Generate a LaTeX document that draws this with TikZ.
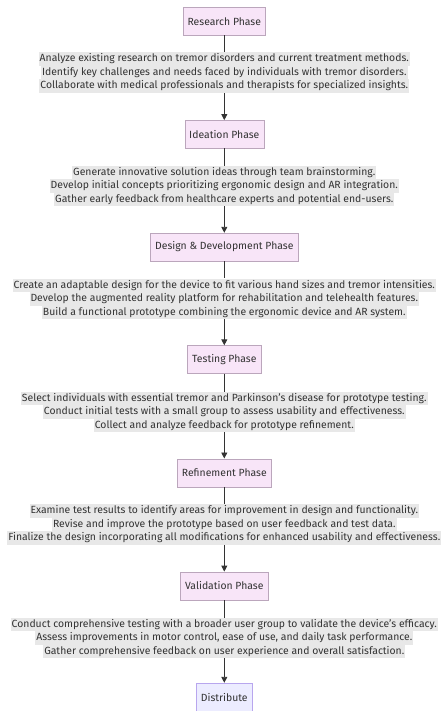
\documentclass[tikz,border=0pt]{standalone}
\usepackage{fontspec}
\setmainfont{Fira Sans}
\usetikzlibrary{arrows.meta}

\definecolor{phasefill}{HTML}{F8E5F8}
\definecolor{phasedraw}{HTML}{BBA6BC}
\definecolor{endfill}{HTML}{ECECFF}
\definecolor{enddraw}{HTML}{B8A6EE}
\definecolor{labelbg}{HTML}{E8E8E8}
\definecolor{ink}{HTML}{333333}
\newcommand{\hl}[1]{{\setlength{\fboxsep}{0pt}\colorbox{labelbg}{\strut\kern1pt#1\kern1pt}}}

\begin{document}
\begin{tikzpicture}[x=1pt, y=-1pt, inner sep=0pt, text=ink,
	font=\fontsize{10.4}{13.5}\selectfont, >={Triangle[length=6pt,width=6pt]}]
	\tikzstyle{every node}=[align=center]
	\tikzstyle{phase}=[draw=phasedraw, fill=phasefill, minimum height=28pt, inner xsep=4.5pt]
	\tikzstyle{finish}=[draw=enddraw, fill=endfill, minimum height=28pt, inner xsep=4.5pt]
	\tikzstyle{flow}=[draw=ink, line width=0.9pt]
		\useasboundingbox (0,0) rectangle (440,711);

		\node[phase]  (research)   at (224.3, 21.3)  {Research Phase};
		\node[phase]  (ideation)   at (224.3, 134.3) {Ideation Phase};
		\node[phase]  (design)     at (224.3, 247)   {Design \& Development Phase};
		\node[phase]  (testing)    at (224.3, 359.5) {Testing Phase};
		\node[phase]  (refinement) at (224.3, 472.7) {Refinement Phase};
		\node[phase]  (validation) at (224.3, 585.8) {Validation Phase};
		\node[finish] (distribute) at (224.3, 697)   {Distribute};

		\node (lresearch) at (224.3, 72.7) {\hl{Analyze existing research on tremor disorders and current treatment methods.}\\
			\hl{Identify key challenges and needs faced by individuals with tremor disorders.}\\
			\hl{Collaborate with medical professionals and therapists for specialized insights.}};
		\node (lideation) at (224.3, 186) {\hl{Generate innovative solution ideas through team brainstorming.}\\
			\hl{Develop initial concepts prioritizing ergonomic design and AR integration.}\\
			\hl{Gather early feedback from healthcare experts and potential end-users.}};
		\node (ldesign) at (224.3, 298.9) {\hl{Create an adaptable design for the device to fit various hand sizes and tremor intensities.}\\
			\hl{Develop the augmented reality platform for rehabilitation and telehealth features.}\\
			\hl{Build a functional prototype combining the ergonomic device and AR system.}};
		\node (ltesting) at (224.3, 412) {\hl{Select individuals with essential tremor and Parkinson's disease for prototype testing.}\\
			\hl{Conduct initial tests with a small group to assess usability and effectiveness.}\\
			\hl{Collect and analyze feedback for prototype refinement.}};
		\node (lrefinement) at (224.3, 524.3) {\hl{Examine test results to identify areas for improvement in design and functionality.}\\
			\hl{Revise and improve the prototype based on user feedback and test data.}\\
			\hl{Finalize the design incorporating all modifications for enhanced usability and effectiveness.}};
		\node (lvalidation) at (224.3, 638) {\hl{Conduct comprehensive testing with a broader user group to validate the device's efficacy.}\\
			\hl{Assess improvements in motor control, ease of use, and daily task performance.}\\
			\hl{Gather comprehensive feedback on user experience and overall satisfaction.}};

		\draw[flow] (research.south) -- (lresearch.north);
		\draw[flow, ->] (lresearch.south) -- (ideation.north);
		\draw[flow] (ideation.south) -- (lideation.north);
		\draw[flow, ->] (lideation.south) -- (design.north);
		\draw[flow] (design.south) -- (ldesign.north);
		\draw[flow, ->] (ldesign.south) -- (testing.north);
		\draw[flow] (testing.south) -- (ltesting.north);
		\draw[flow, ->] (ltesting.south) -- (refinement.north);
		\draw[flow] (refinement.south) -- (lrefinement.north);
		\draw[flow, ->] (lrefinement.south) -- (validation.north);
		\draw[flow] (validation.south) -- (lvalidation.north);
		\draw[flow, ->] (lvalidation.south) -- (distribute.north);
	\end{tikzpicture}
\end{document}
